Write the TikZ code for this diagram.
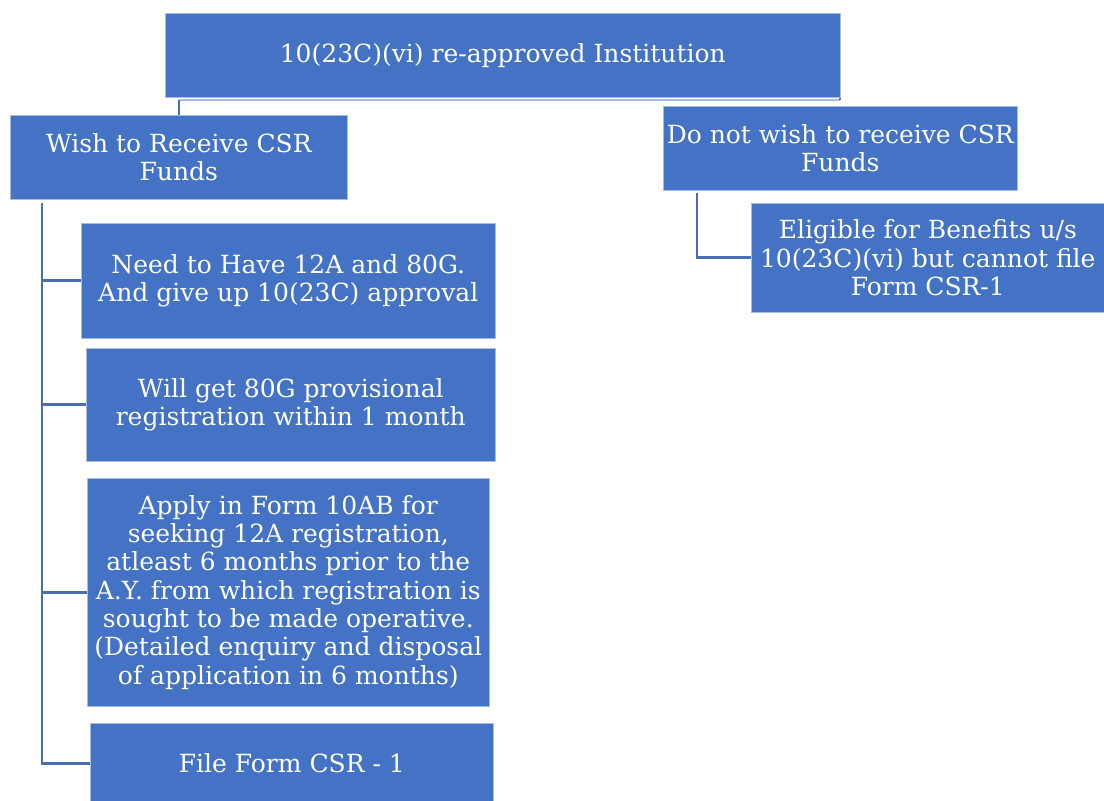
\documentclass[tikz,border=0pt]{standalone}
\usepackage{fontspec}
\setmainfont{DejaVu Serif}
\definecolor{boxblue}{HTML}{4472C4}
\definecolor{linkblue}{HTML}{4A6EB0}
\definecolor{thinblue}{HTML}{A9BCE3}
\begin{document}
\begin{tikzpicture}[x=1pt,y=-1pt,
  box/.style={fill=boxblue,draw=thinblue,line width=0.6pt,text=white,align=center,inner sep=0pt,
    font=\fontsize{25}{28.3}\selectfont},
  link/.style={draw=linkblue,line width=2.8pt}]
\useasboundingbox (0,0) rectangle (1104,801);
\path[fill=white] (0,0) rectangle (1104,801);
% boxes
\node[box,minimum width=675pt,minimum height=84pt,anchor=north west] (top) at (165,13) {10(23C)(vi) re-approved Institution};
\node[box,minimum width=337pt,minimum height=84pt,anchor=north west] (wish) at (10,115) {Wish to Receive CSR\\Funds};
\node[box,minimum width=354pt,minimum height=84pt,anchor=north west] (donot) at (663,106) {Do not wish to receive CSR\\Funds};
\node[box,minimum width=353pt,minimum height=109pt,anchor=north west] (elig) at (751,203) {Eligible for Benefits u/s\\10(23C)(vi) but cannot file\\Form CSR-1};
\node[box,minimum width=414pt,minimum height=115pt,anchor=north west] (need) at (81,223) {Need to Have 12A and 80G.\\And give up 10(23C) approval};
\node[box,minimum width=409pt,minimum height=113pt,anchor=north west] (will) at (86,348) {Will get 80G provisional\\registration within 1 month};
\node[box,minimum width=402pt,minimum height=228pt,anchor=north west] (apply) at (87,478) {Apply in Form 10AB for\\seeking 12A registration,\\atleast 6 months prior to the\\A.Y. from which registration is\\sought to be made operative.\\(Detailed enquiry and disposal\\of application in 6 months)};
\node[box,minimum width=403pt,minimum height=80pt,anchor=north west] (file) at (90,723) {File Form CSR - 1};
% coordinates for connectors
\coordinate (tl) at (179,100);
\coordinate (tr) at (840,100);
\coordinate (wl) at (42,203);
\coordinate (dl) at (697,193);
% top connectors
\draw[draw=thinblue,line width=1.2pt] (tl) -- (tr);
\draw[link,line width=2pt] (tl) -- (wish.north -| tl);
\draw[link,line width=2pt] (tr) -- (top.south -| tr);
% left tree
\draw[link] (wl) |- (need.west);
\draw[link] (wl) |- (will.west);
\draw[link] (wl) |- (apply.west);
\draw[link] (wl) |- (file.west);
% right tree
\draw[link] (dl) |- (elig.west);
\end{tikzpicture}
\end{document}
